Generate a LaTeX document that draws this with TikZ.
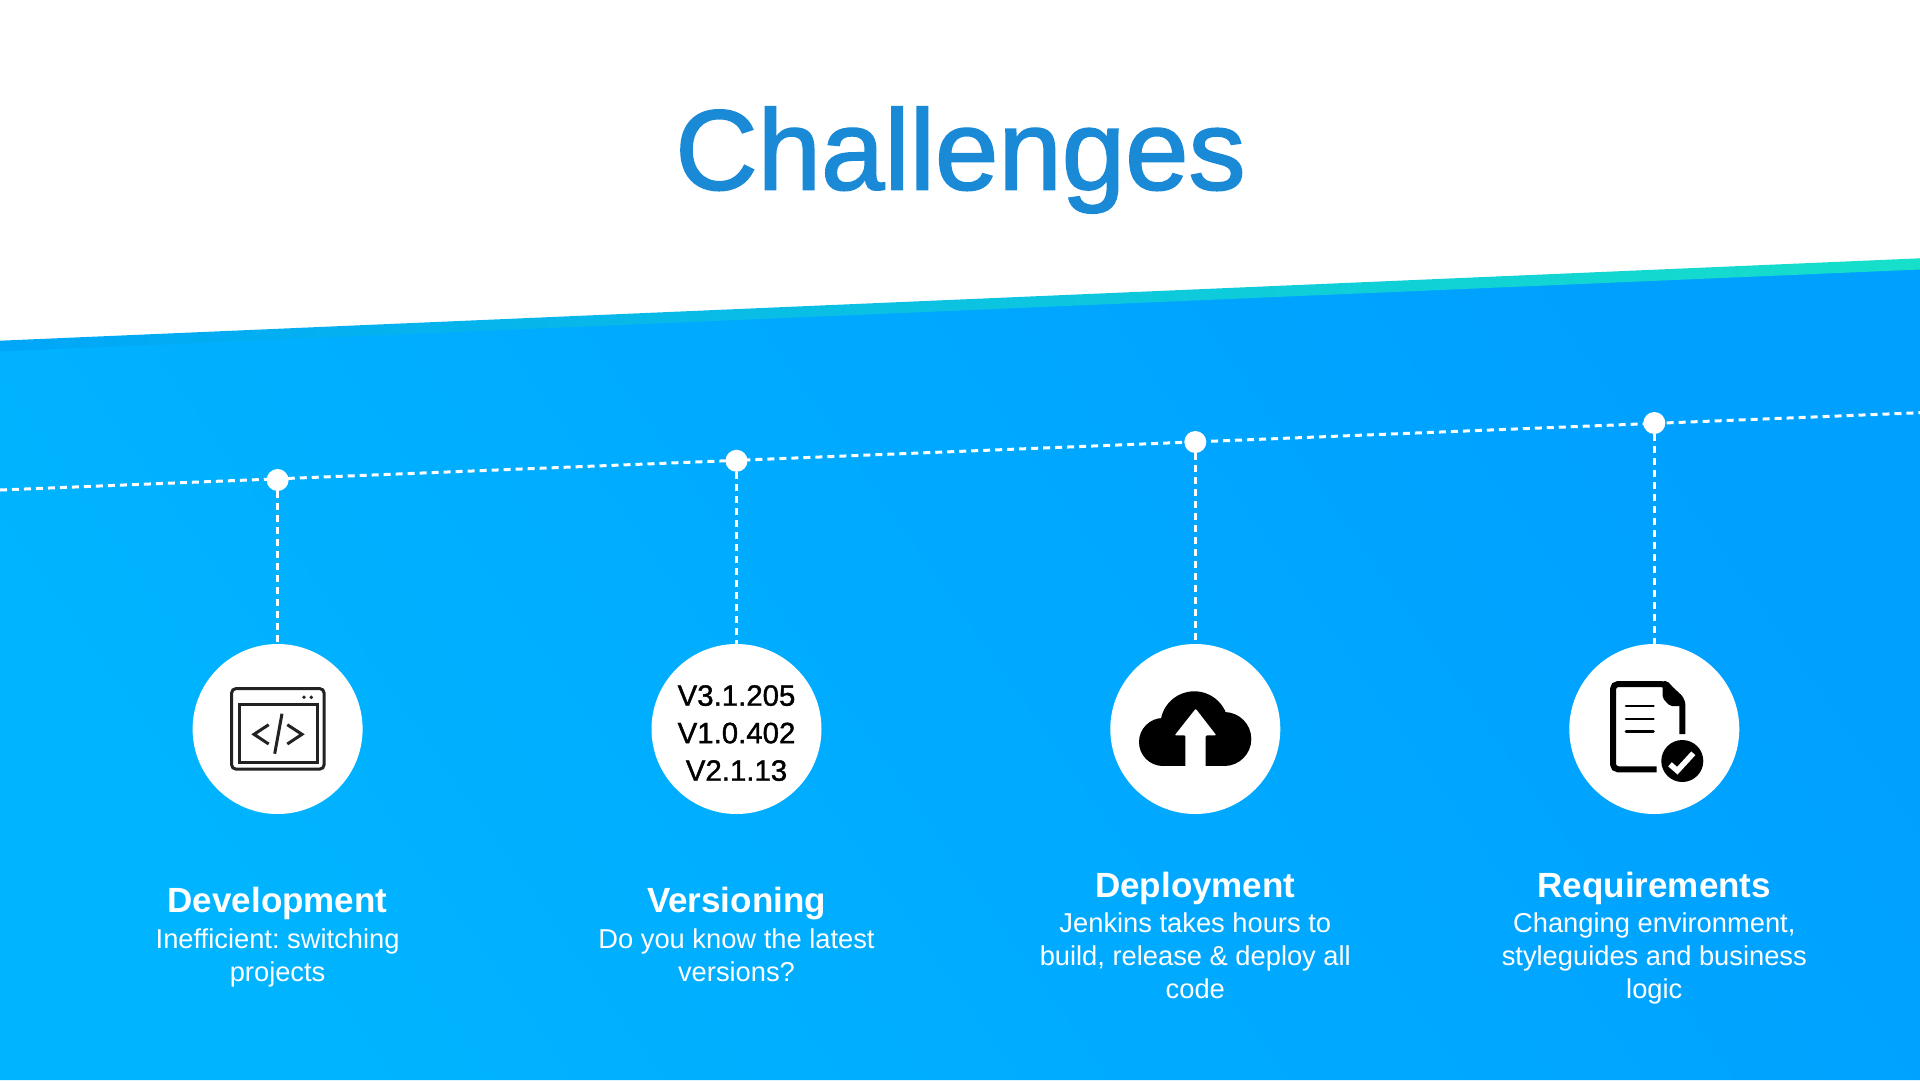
\documentclass[tikz,border=0pt]{standalone}
\usepackage{fontspec}
\setmainfont{Liberation Sans}
\newfontfamily\medfont[FakeBold=1.3]{Liberation Sans}
\newfontfamily\titlefont[FakeBold=1.6]{Liberation Sans}
\definecolor{titleblue}{HTML}{1A8AD6}
\definecolor{bgleft}{HTML}{00B4FF}
\definecolor{bgright}{HTML}{00A0FF}
\definecolor{bandteal}{HTML}{16E0CA}
\definecolor{bandblue}{HTML}{00A6F8}
\definecolor{iconink}{HTML}{222222}
\tikzset{
	dashline/.style={white,line width=3pt,dash pattern=on 7pt off 5pt},
	dotnode/.style={circle,fill=white,inner sep=0pt,minimum size=22pt},
	circnode/.style={circle,fill=white,inner sep=0pt,minimum size=170pt},
	headtext/.style={white,inner sep=0pt,anchor=base,font=\fontsize{35}{40}\selectfont\bfseries},
	bodytext/.style={white,align=center,inner sep=0pt,anchor=base,font=\frenchspacing\fontsize{27.3}{32.7}\selectfont},
	vertext/.style={black,inner sep=0pt,anchor=base,font=\medfont\fontsize{29.4}{33}\selectfont},
}
\begin{document}
\begin{tikzpicture}[x=1pt,y=-1pt]
\useasboundingbox (0,0) rectangle (1920,1080);

% background and band
\shade [left color=bgleft,right color=bgright,shading angle=125] (0,351) -- (1920,269) -- (1920,1080) -- (0,1080) -- cycle;
\shade [left color=bandblue,right color=bandteal] (0,340.7) -- (1920,258.3) -- (1920,269.5) -- (0,351.5) -- cycle;

\node (title) [titleblue,font=\titlefont\fontsize{114}{120}\selectfont,anchor=base] at (960.5,189.5) {Challenges};

\coordinate (lineleft) at (0,490);
\coordinate (lineright) at (1920,412.7);
\draw [dashline] (lineleft) -- (lineright);

\foreach \n / \x / \y in {
								1/277.6/480,
								2/736.5/460.8,
								3/1195.3/442,
								4/1654.3/423%
										}
	{%
		\node (dot\n) [dotnode] at (\x,\y) {};
		\node (circ\n) [circnode] at (\x,729) {};
		\draw [dashline] (dot\n) -- (circ\n);
	}

% labels
\node (head1) [headtext] at (277.6,912.5) {Development};
\node (body1) [bodytext] at (277.6,981) {Inefficient: switching\\projects};
\node (head2) [headtext] at (736.5,912.5) {Versioning};
\node (body2) [bodytext] at (736.5,981) {Do you know the latest\\versions?};
\node (head3) [headtext] at (1195.3,897) {Deployment};
\node (body3) [bodytext] at (1195.3,998) {Jenkins takes hours to\\build, release \& deploy all\\code};
\node (head4) [headtext] at (1654.3,897) {Requirements};
\node (body4) [bodytext] at (1654.3,998) {Changing environment,\\styleguides and business\\logic};

% development icon
\draw [iconink,line width=3pt,rounded corners=4pt] (231.7,688.7) rectangle (324,769);
\draw [iconink,line width=3pt] (239.3,704) rectangle (317.3,762);
\fill [iconink] (304,697.3) circle (1.9) (311.3,697.3) circle (1.9);
\draw [iconink,line width=3pt] (268.7,724.7) -- (254,734.3) -- (268.7,744);
\draw [iconink,line width=3pt] (287.3,724.7) -- (302,734.3) -- (287.3,744);
\draw [iconink,line width=3pt] (282,713.7) -- (274.7,753.7);

% versions
\node (ver1) [vertext] at (736.5,705.7) {V3.1.205};
\node (ver2) [vertext] at (736.5,743.2) {V1.0.402};
\node (ver3) [vertext] at (736.5,780.7) {V2.1.13};

% cloud icon
\fill [black] (1194.3,725.3) circle (34) (1163,742) circle (24) (1224.3,739) circle (27);
\fill [black] (1163,725) rectangle (1224.3,766);
\fill [white,rounded corners=1pt] (1195.7,708.7) -- (1216.3,735.3) -- (1205.7,735.3) -- (1205.7,767) -- (1185.3,767) -- (1185.3,735.3) -- (1174.7,735.3) -- cycle;

% requirements icon
\draw [black,line width=6pt,rounded corners=5pt] (1682.3,734) -- (1682.3,700) -- (1665,684) -- (1613,684) -- (1613,769.3) -- (1656.7,769.3);
\fill [black,rounded corners=2pt] (1662.7,681) -- (1667.3,681) -- (1685,701) -- (1685,706) -- (1670,706) -- (1662.7,698.3) -- cycle;
\foreach \y in {706,719,731.7}
	\draw [black,line width=2.6pt,line cap=round] (1626,\y) -- (1653.5,\y);
\fill [black] (1682.3,761) circle (21);
\draw [white,line width=5.5pt] (1670,764.3) -- (1677.3,770.7) -- (1693.3,753.3);

\end{tikzpicture}
\end{document}
